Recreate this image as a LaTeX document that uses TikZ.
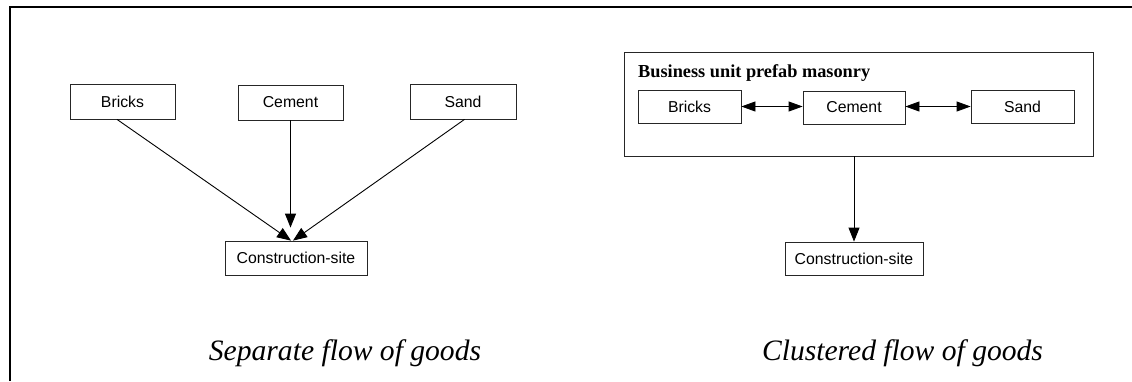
\documentclass[tikz,border=0pt]{standalone}
\usepackage{fontspec}
\setmainfont{Liberation Serif}
\setsansfont{Liberation Sans}
\usetikzlibrary{arrows.meta}
\begin{document}
\begin{tikzpicture}[x=1pt,y=-1pt,
  box/.style={draw=black!85, line width=0.8pt, rectangle, inner sep=0pt,
    font=\sffamily\fontsize{15.8}{18}\selectfont},
  arr/.style={-{Triangle[length=14pt,width=11pt]}, line width=0.9pt},
  darr/.style={{Triangle[length=14pt,width=10pt]}-{Triangle[length=14pt,width=10pt]}, line width=0.8pt},
  captext/.style={anchor=base, inner sep=0pt, font=\itshape\fontsize{29.6}{32}\selectfont},
  frame/.style={line width=2.8pt, line join=miter}
]
\useasboundingbox (0,0) rectangle (1132,381);
% frame
\coordinate (fbl) at (10,381);
\coordinate (ftl) at (10,7);
\coordinate (ftr) at (1132,7);
\draw[frame] (fbl) -- (ftl) -- (ftr);

% left diagram
\node[box, minimum width=105pt, minimum height=35pt] (b1) at (122.5,101.5) {Bricks};
\node[box, minimum width=105pt, minimum height=35pt] (c1) at (290.5,102.5) {Cement};
\node[box, minimum width=106pt, minimum height=35pt] (s1) at (463,101.5) {Sand};
\node[box, minimum width=142pt, minimum height=34pt] (cs1) at (296,258) {Construction-site};
\draw[arr] ([xshift=-5.5pt]b1.south) -- ([xshift=-5pt]cs1.north);
\draw[arr] (c1.south) -- ([yshift=13pt]c1.south |- cs1.north);
\draw[arr] ([xshift=1.5pt]s1.south) -- ([xshift=-3pt]cs1.north);
\node[captext] (cap1) at (345,360) {Separate flow of goods};

% right diagram
\node[draw=black!85, line width=0.8pt, rectangle, inner sep=0pt,
  minimum width=469pt, minimum height=104pt] (bu) at (858.5,104) {};
\node[anchor=base west, inner sep=0pt, font=\bfseries\fontsize{18.3}{20}\selectfont] (title) at (638,77) {Business unit prefab masonry};
\node[box, minimum width=103pt, minimum height=33pt] (b2) at (689.5,106.5) {Bricks};
\node[box, minimum width=102pt, minimum height=33pt] (c2) at (854,107.5) {Cement};
\node[box, minimum width=103pt, minimum height=33pt] (s2) at (1022.5,106.5) {Sand};
\node[box, minimum width=138pt, minimum height=33pt] (cs2) at (854,258.5) {Construction-site};
\draw[darr] (b2.east) -- (b2.east -| c2.west);
\draw[darr] (s2.west -| c2.east) -- (s2.west);
\draw[arr] (bu.south -| cs2.north) -- (cs2.north);
\node[captext] (cap2) at (902.5,360) {Clustered flow of goods};
\end{tikzpicture}
\end{document}
